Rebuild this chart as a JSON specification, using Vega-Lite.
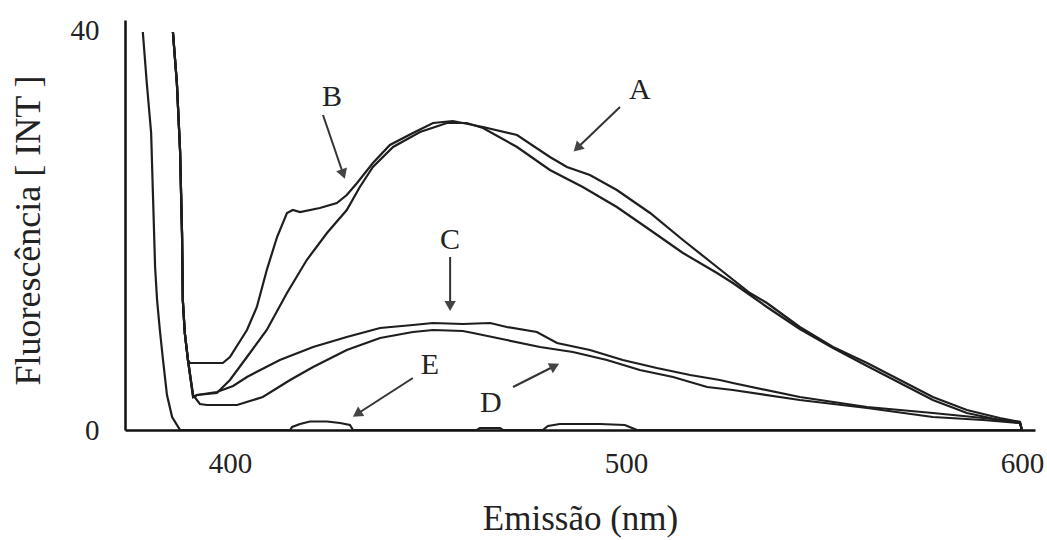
{
  "$schema": "https://vega.github.io/schema/vega-lite/v6.json",
  "autosize": {"type": "none"},
  "padding": {"left": 125, "top": 20, "right": 12, "bottom": 110},
  "width": 910,
  "height": 410,
  "background": "white",
  "config": {
    "view": {"stroke": null},
    "font": "'Liberation Serif', 'Times New Roman', serif",
    "axis": {
      "labelFont": "'Liberation Serif', 'Times New Roman', serif",
      "titleFont": "'Liberation Serif', 'Times New Roman', serif"
    }
  },
  "datasets": {
    "spectra": [
      {"series": "E", "nm": 378.0, "v": 39.8},
      {"series": "E", "nm": 379.0, "v": 34.7},
      {"series": "E", "nm": 380.1, "v": 29.7},
      {"series": "E", "nm": 380.6, "v": 23.0},
      {"series": "E", "nm": 381.1, "v": 16.3},
      {"series": "E", "nm": 381.6, "v": 13.0},
      {"series": "E", "nm": 382.3, "v": 10.0},
      {"series": "E", "nm": 383.1, "v": 7.0},
      {"series": "E", "nm": 384.1, "v": 3.5},
      {"series": "E", "nm": 385.4, "v": 1.3},
      {"series": "E", "nm": 387.4, "v": 0.0},
      {"series": "E", "nm": 415.2, "v": 0.0},
      {"series": "E", "nm": 415.7, "v": 0.3},
      {"series": "E", "nm": 417.7, "v": 0.6},
      {"series": "E", "nm": 420.2, "v": 0.85},
      {"series": "E", "nm": 424.5, "v": 0.85},
      {"series": "E", "nm": 427.8, "v": 0.7},
      {"series": "E", "nm": 430.3, "v": 0.5},
      {"series": "E", "nm": 431.1, "v": 0.0},
      {"series": "E", "nm": 462.4, "v": 0.0},
      {"series": "E", "nm": 463.1, "v": 0.2},
      {"series": "E", "nm": 468.2, "v": 0.2},
      {"series": "E", "nm": 468.9, "v": 0.0},
      {"series": "E", "nm": 479.0, "v": 0.0},
      {"series": "E", "nm": 480.3, "v": 0.4},
      {"series": "E", "nm": 483.3, "v": 0.6},
      {"series": "E", "nm": 493.4, "v": 0.6},
      {"series": "E", "nm": 499.7, "v": 0.5},
      {"series": "E", "nm": 502.8, "v": 0.0},
      {"series": "E", "nm": 600.0, "v": 0.0},

      {"series": "B", "nm": 385.6, "v": 39.8},
      {"series": "B", "nm": 386.6, "v": 34.7},
      {"series": "B", "nm": 387.4, "v": 28.0},
      {"series": "B", "nm": 387.9, "v": 19.7},
      {"series": "B", "nm": 388.1, "v": 13.0},
      {"series": "B", "nm": 388.6, "v": 9.7},
      {"series": "B", "nm": 389.4, "v": 7.0},
      {"series": "B", "nm": 389.9, "v": 6.7},
      {"series": "B", "nm": 398.2, "v": 6.7},
      {"series": "B", "nm": 400.0, "v": 7.3},
      {"series": "B", "nm": 404.3, "v": 10.0},
      {"series": "B", "nm": 406.8, "v": 12.3},
      {"series": "B", "nm": 409.3, "v": 16.0},
      {"series": "B", "nm": 411.9, "v": 19.3},
      {"series": "B", "nm": 414.4, "v": 21.7},
      {"series": "B", "nm": 415.9, "v": 22.0},
      {"series": "B", "nm": 417.7, "v": 21.8},
      {"series": "B", "nm": 422.7, "v": 22.2},
      {"series": "B", "nm": 427.0, "v": 22.7},
      {"series": "B", "nm": 429.5, "v": 23.5},
      {"series": "B", "nm": 432.1, "v": 24.7},
      {"series": "B", "nm": 436.1, "v": 26.7},
      {"series": "B", "nm": 440.4, "v": 28.5},
      {"series": "B", "nm": 446.2, "v": 29.7},
      {"series": "B", "nm": 451.3, "v": 30.7},
      {"series": "B", "nm": 456.3, "v": 30.9},
      {"series": "B", "nm": 463.9, "v": 30.3},
      {"series": "B", "nm": 472.5, "v": 29.5},
      {"series": "B", "nm": 480.8, "v": 27.3},
      {"series": "B", "nm": 485.1, "v": 26.3},
      {"series": "B", "nm": 490.9, "v": 25.5},
      {"series": "B", "nm": 497.7, "v": 24.0},
      {"series": "B", "nm": 506.1, "v": 21.7},
      {"series": "B", "nm": 514.4, "v": 19.0},
      {"series": "B", "nm": 523.0, "v": 16.3},
      {"series": "B", "nm": 531.3, "v": 13.7},
      {"series": "B", "nm": 535.6, "v": 12.7},
      {"series": "B", "nm": 543.9, "v": 10.3},
      {"series": "B", "nm": 552.3, "v": 8.3},
      {"series": "B", "nm": 560.9, "v": 6.7},
      {"series": "B", "nm": 569.2, "v": 5.0},
      {"series": "B", "nm": 577.5, "v": 3.3},
      {"series": "B", "nm": 586.1, "v": 2.0},
      {"series": "B", "nm": 594.4, "v": 1.2},
      {"series": "B", "nm": 599.5, "v": 0.8},
      {"series": "B", "nm": 600.0, "v": 0.0},

      {"series": "A", "nm": 385.6, "v": 39.8},
      {"series": "A", "nm": 386.6, "v": 34.7},
      {"series": "A", "nm": 387.4, "v": 28.0},
      {"series": "A", "nm": 387.9, "v": 19.7},
      {"series": "A", "nm": 388.1, "v": 13.0},
      {"series": "A", "nm": 388.6, "v": 9.7},
      {"series": "A", "nm": 389.4, "v": 7.0},
      {"series": "A", "nm": 390.7, "v": 3.3},
      {"series": "A", "nm": 391.7, "v": 3.5},
      {"series": "A", "nm": 396.7, "v": 3.7},
      {"series": "A", "nm": 400.0, "v": 5.0},
      {"series": "A", "nm": 404.3, "v": 7.3},
      {"series": "A", "nm": 409.3, "v": 10.0},
      {"series": "A", "nm": 414.4, "v": 13.7},
      {"series": "A", "nm": 419.4, "v": 17.0},
      {"series": "A", "nm": 424.5, "v": 19.7},
      {"series": "A", "nm": 429.5, "v": 22.0},
      {"series": "A", "nm": 432.8, "v": 24.3},
      {"series": "A", "nm": 436.1, "v": 26.3},
      {"series": "A", "nm": 441.2, "v": 28.3},
      {"series": "A", "nm": 448.0, "v": 29.8},
      {"series": "A", "nm": 454.8, "v": 30.7},
      {"series": "A", "nm": 459.8, "v": 30.7},
      {"series": "A", "nm": 463.9, "v": 30.2},
      {"series": "A", "nm": 472.5, "v": 28.3},
      {"series": "A", "nm": 480.8, "v": 26.0},
      {"series": "A", "nm": 489.1, "v": 24.3},
      {"series": "A", "nm": 497.7, "v": 22.3},
      {"series": "A", "nm": 506.1, "v": 20.0},
      {"series": "A", "nm": 514.4, "v": 17.7},
      {"series": "A", "nm": 523.0, "v": 15.7},
      {"series": "A", "nm": 527.0, "v": 14.7},
      {"series": "A", "nm": 535.6, "v": 12.3},
      {"series": "A", "nm": 543.9, "v": 10.1},
      {"series": "A", "nm": 552.3, "v": 8.2},
      {"series": "A", "nm": 560.9, "v": 6.4},
      {"series": "A", "nm": 569.2, "v": 4.7},
      {"series": "A", "nm": 577.5, "v": 3.0},
      {"series": "A", "nm": 586.1, "v": 1.7},
      {"series": "A", "nm": 594.4, "v": 1.0},
      {"series": "A", "nm": 599.5, "v": 0.7},
      {"series": "A", "nm": 600.0, "v": 0.0},

      {"series": "C", "nm": 385.6, "v": 39.8},
      {"series": "C", "nm": 386.6, "v": 34.7},
      {"series": "C", "nm": 387.4, "v": 28.0},
      {"series": "C", "nm": 387.9, "v": 19.7},
      {"series": "C", "nm": 388.1, "v": 13.0},
      {"series": "C", "nm": 388.6, "v": 9.7},
      {"series": "C", "nm": 389.4, "v": 7.0},
      {"series": "C", "nm": 390.7, "v": 3.3},
      {"series": "C", "nm": 391.7, "v": 3.5},
      {"series": "C", "nm": 396.7, "v": 3.8},
      {"series": "C", "nm": 400.8, "v": 4.4},
      {"series": "C", "nm": 404.3, "v": 5.3},
      {"series": "C", "nm": 412.6, "v": 7.0},
      {"series": "C", "nm": 421.0, "v": 8.3},
      {"series": "C", "nm": 429.5, "v": 9.3},
      {"series": "C", "nm": 437.9, "v": 10.2},
      {"series": "C", "nm": 446.2, "v": 10.5},
      {"series": "C", "nm": 451.3, "v": 10.7},
      {"series": "C", "nm": 458.8, "v": 10.6},
      {"series": "C", "nm": 465.7, "v": 10.7},
      {"series": "C", "nm": 469.9, "v": 10.3},
      {"series": "C", "nm": 477.5, "v": 9.8},
      {"series": "C", "nm": 482.6, "v": 8.7},
      {"series": "C", "nm": 490.9, "v": 8.0},
      {"series": "C", "nm": 499.2, "v": 7.0},
      {"series": "C", "nm": 507.8, "v": 6.2},
      {"series": "C", "nm": 516.2, "v": 5.5},
      {"series": "C", "nm": 523.7, "v": 5.0},
      {"series": "C", "nm": 527.0, "v": 4.7},
      {"series": "C", "nm": 543.9, "v": 3.3},
      {"series": "C", "nm": 560.9, "v": 2.3},
      {"series": "C", "nm": 577.5, "v": 1.7},
      {"series": "C", "nm": 590.2, "v": 1.2},
      {"series": "C", "nm": 599.5, "v": 0.8},
      {"series": "C", "nm": 600.0, "v": 0.0},

      {"series": "D", "nm": 385.6, "v": 39.8},
      {"series": "D", "nm": 386.6, "v": 34.7},
      {"series": "D", "nm": 387.4, "v": 28.0},
      {"series": "D", "nm": 387.9, "v": 19.7},
      {"series": "D", "nm": 388.1, "v": 13.0},
      {"series": "D", "nm": 388.6, "v": 9.7},
      {"series": "D", "nm": 389.4, "v": 7.0},
      {"series": "D", "nm": 390.7, "v": 3.5},
      {"series": "D", "nm": 392.4, "v": 2.6},
      {"series": "D", "nm": 394.2, "v": 2.5},
      {"series": "D", "nm": 401.8, "v": 2.5},
      {"series": "D", "nm": 408.3, "v": 3.3},
      {"series": "D", "nm": 415.2, "v": 5.0},
      {"series": "D", "nm": 421.0, "v": 6.3},
      {"series": "D", "nm": 429.5, "v": 8.0},
      {"series": "D", "nm": 437.9, "v": 9.2},
      {"series": "D", "nm": 446.2, "v": 9.8},
      {"series": "D", "nm": 451.3, "v": 10.0},
      {"series": "D", "nm": 458.8, "v": 9.9},
      {"series": "D", "nm": 461.4, "v": 9.7},
      {"series": "D", "nm": 469.9, "v": 9.0},
      {"series": "D", "nm": 478.3, "v": 8.3},
      {"series": "D", "nm": 486.6, "v": 7.8},
      {"series": "D", "nm": 495.2, "v": 7.0},
      {"series": "D", "nm": 503.5, "v": 6.0},
      {"series": "D", "nm": 511.9, "v": 5.3},
      {"series": "D", "nm": 520.5, "v": 4.3},
      {"series": "D", "nm": 527.0, "v": 4.0},
      {"series": "D", "nm": 543.9, "v": 3.0},
      {"series": "D", "nm": 560.9, "v": 2.2},
      {"series": "D", "nm": 577.5, "v": 1.3},
      {"series": "D", "nm": 590.2, "v": 1.0},
      {"series": "D", "nm": 599.5, "v": 0.7},
      {"series": "D", "nm": 600.0, "v": 0.0}
    ],
    "callouts": [
      {"label": "A", "lx": 503.5, "ly": 34.0, "x1": 498.5, "y1": 32.3, "x2": 487.7, "y2": 28.2, "heading": 226},
      {"label": "B", "lx": 425.8, "ly": 33.3, "x1": 423.5, "y1": 31.5, "x2": 428.6, "y2": 25.6, "heading": 161},
      {"label": "C", "lx": 455.6, "ly": 19.0, "x1": 455.6, "y1": 17.3, "x2": 455.6, "y2": 12.4, "heading": 180},
      {"label": "D", "lx": 465.9, "ly": 2.7, "x1": 471.5, "y1": 4.3, "x2": 482.0, "y2": 6.4, "heading": 63},
      {"label": "E", "lx": 450.5, "ly": 6.5, "x1": 446.2, "y1": 5.2, "x2": 432.1, "y2": 1.6, "heading": 237}
    ]
  },
  "layer": [
    {
      "data": {"name": "spectra"},
      "mark": {"type": "line", "color": "#1e1e1e", "strokeWidth": 2.2, "clip": true},
      "encoding": {
        "x": {
          "field": "nm",
          "type": "quantitative",
          "scale": {"domain": [373.5, 603.3], "nice": false, "zero": false},
          "axis": {
            "values": [400, 500, 600],
            "ticks": false,
            "grid": false,
            "domainColor": "#111111",
            "domainWidth": 2.5,
            "labelFontSize": 29,
            "labelColor": "#222222",
            "labelPadding": 19,
            "labelFlush": false,
            "title": "Emissão (nm)",
            "titleFontSize": 35,
            "titleFontWeight": "normal",
            "titleColor": "#222222",
            "titleX": 455,
            "titleY": 88,
            "titleAlign": "center",
            "titleBaseline": "middle"
          }
        },
        "y": {
          "field": "v",
          "type": "quantitative",
          "scale": {"domain": [0, 41], "nice": false},
          "axis": {
            "values": [0, 40],
            "ticks": false,
            "grid": false,
            "domainColor": "#111111",
            "domainWidth": 2.5,
            "labelFontSize": 29,
            "labelColor": "#222222",
            "labelPadding": 26,
            "labelFlush": false,
            "title": "Fluorescência [ INT ]",
            "titleFontSize": 36,
            "titleFontWeight": "normal",
            "titleColor": "#222222",
            "titleX": -97,
            "titleY": 210,
            "titleAlign": "center",
            "titleBaseline": "middle"
          }
        },
        "detail": {"field": "series", "type": "nominal"}
      }
    },
    {
      "data": {"name": "callouts"},
      "mark": {"type": "rule", "color": "#333333", "strokeWidth": 2},
      "encoding": {
        "x": {"field": "x1", "type": "quantitative"},
        "y": {"field": "y1", "type": "quantitative"},
        "x2": {"field": "x2"},
        "y2": {"field": "y2"}
      }
    },
    {
      "data": {"name": "callouts"},
      "mark": {"type": "point", "shape": "triangle-up", "filled": true, "color": "#444444", "size": 130, "opacity": 1},
      "encoding": {
        "x": {"field": "x2", "type": "quantitative"},
        "y": {"field": "y2", "type": "quantitative"},
        "angle": {"field": "heading", "type": "quantitative", "scale": null}
      }
    },
    {
      "data": {"name": "callouts"},
      "mark": {"type": "text", "fontSize": 30, "color": "#222222", "align": "center", "baseline": "middle"},
      "encoding": {
        "x": {"field": "lx", "type": "quantitative"},
        "y": {"field": "ly", "type": "quantitative"},
        "text": {"field": "label", "type": "nominal"},
        "fontWeight": {
          "condition": {"test": "indexof(['C', 'D', 'E'], datum.label) >= 0", "value": "bold"},
          "value": "normal"
        }
      }
    }
  ]
}
